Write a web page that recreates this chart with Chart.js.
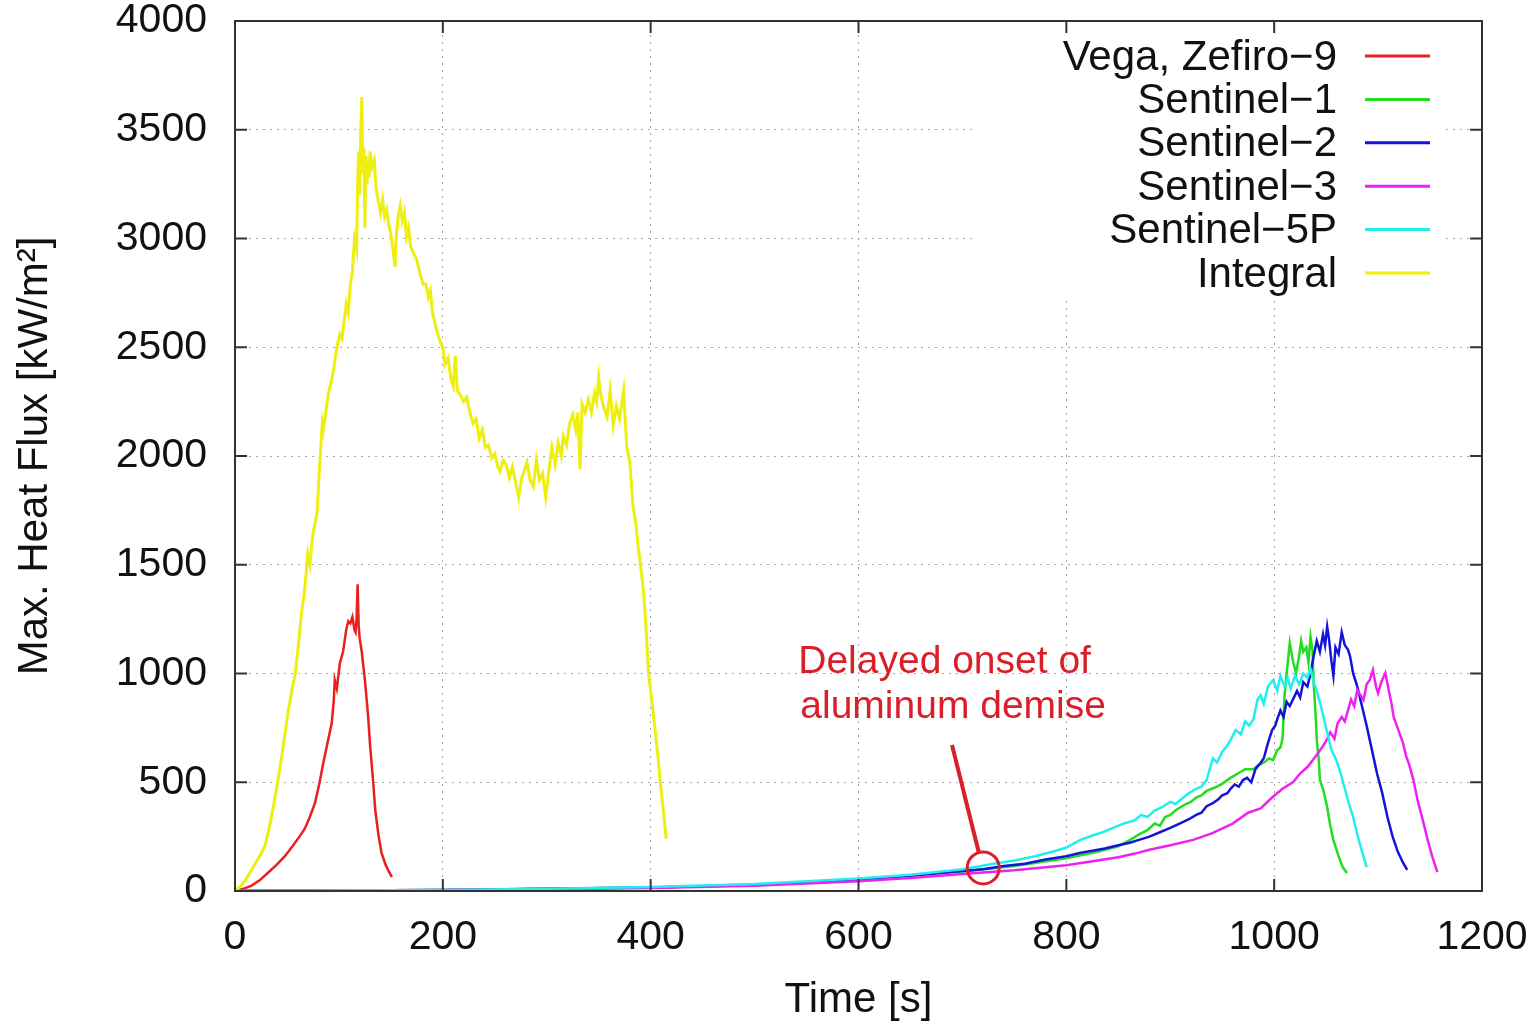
<!DOCTYPE html>
<html>
<head>
<meta charset="utf-8">
<script src="https://cdn.jsdelivr.net/npm/chart.js@4/dist/chart.umd.min.js"></script>
<style>
  body { margin: 0; background: #fff; }
  #wrap { width: 1538px; height: 1022px; }
</style>
</head>
<body>
<div id="wrap"><canvas id="flux" width="1538" height="1022"></canvas></div>
<script>
// values: time [s] and max heat flux [kW/m2]
const vegaTime = [0, 8, 16, 24, 32, 40, 48, 56, 62, 67, 72, 77, 81, 85, 89, 93, 95, 96, 98, 101, 104, 107, 109, 111, 113, 115, 116, 117, 118, 119, 120, 122, 125, 128, 130, 133, 135, 138, 141, 145, 148, 151]
const vegaFlux = [0, 10, 25, 50, 85, 120, 160, 210, 250, 285, 340, 405, 490, 590, 680, 770, 870, 970, 930, 1050, 1100, 1200, 1240, 1230, 1260, 1200, 1190, 1250, 1410, 1220, 1160, 1100, 970, 810, 670, 500, 370, 260, 175, 120, 90, 64]

const s1Time = [0, 100, 200, 300, 400, 500, 600, 700, 750, 800, 830, 850, 861, 870, 878, 885, 890, 895, 900, 905, 910, 915, 920, 925, 930, 935, 940, 945, 951, 958, 965, 972, 980, 985, 990, 995, 999, 1003, 1006, 1008, 1010, 1012, 1015, 1018, 1021, 1024, 1026, 1028, 1031, 1033, 1035, 1037, 1038, 1040, 1041, 1043, 1044, 1047, 1051, 1054, 1057, 1062, 1066, 1070]
const s1Flux = [0, 2, 5, 10, 16, 28, 54, 90, 115, 150, 180, 205, 234, 260, 280, 310, 300, 340, 350, 370, 386, 400, 410, 430, 440, 460, 470, 480, 496, 520, 540, 560, 560, 580, 590, 610, 602, 648, 660, 700, 900, 1000, 1140, 1060, 1002, 1080, 1150, 1100, 1120, 1050, 1168, 1100, 956, 800, 694, 600, 510, 470, 386, 300, 234, 160, 110, 83]

const s2Time = [0, 100, 200, 300, 400, 500, 550, 600, 650, 700, 720, 740, 760, 780, 800, 813, 825, 837, 850, 861, 870, 880, 890, 900, 910, 918, 925, 930, 935, 941, 946, 950, 955, 958, 962, 966, 970, 974, 978, 982, 987, 990, 994, 998, 1001, 1003, 1006, 1009, 1012, 1015, 1018, 1022, 1025, 1028, 1032, 1035, 1038, 1041, 1044, 1047, 1049, 1051, 1053, 1055, 1057, 1059, 1062, 1065, 1068, 1071, 1073, 1076, 1080, 1084, 1089, 1094, 1099, 1104, 1109, 1114, 1119, 1124, 1128]
const s2Flux = [0, 2, 5, 10, 16, 28, 40, 54, 70, 92, 100, 115, 125, 145, 160, 175, 185, 195, 210, 222, 235, 250, 270, 290, 312, 330, 350, 360, 390, 404, 420, 440, 450, 470, 490, 480, 510, 520, 500, 560, 590, 610, 680, 740, 760, 790, 830, 800, 870, 850, 880, 920, 890, 960, 940, 1000, 1080, 1150, 1100, 1180, 1130, 1215, 1150, 1060, 990, 1120, 1090, 1190, 1130, 1110, 1080, 1000, 940, 860, 760, 650, 540, 450, 340, 250, 180, 130, 97]

const s3Time = [0, 100, 200, 300, 400, 500, 600, 650, 700, 750, 800, 830, 850, 866, 880, 900, 922, 940, 960, 975, 987, 998, 1008, 1018, 1025, 1032, 1040, 1046, 1050, 1054, 1058, 1061, 1065, 1068, 1071, 1074, 1077, 1080, 1083, 1086, 1089, 1092, 1095, 1098, 1100, 1103, 1107, 1110, 1113, 1115, 1118, 1121, 1124, 1127, 1130, 1134, 1138, 1143, 1148, 1152, 1157]
const s3Flux = [0, 2, 5, 9, 14, 24, 45, 60, 78, 95, 118, 140, 155, 172, 190, 210, 235, 265, 310, 360, 380, 430, 470, 500, 540, 570, 620, 660, 690, 730, 700, 770, 800, 780, 830, 880, 850, 924, 900, 878, 950, 970, 1016, 940, 910, 960, 1002, 930, 860, 800, 760, 720, 680, 620, 580, 510, 418, 326, 230, 160, 87]

const s5pTime = [0, 100, 200, 300, 400, 500, 550, 600, 650, 700, 730, 750, 770, 790, 800, 813, 825, 835, 845, 855, 866, 872, 878, 885, 892, 900, 905, 910, 918, 925, 930, 935, 938, 941, 945, 950, 955, 958, 963, 968, 972, 976, 980, 984, 987, 990, 994, 999, 1003, 1006, 1010, 1013, 1016, 1020, 1024, 1028, 1032, 1035, 1038, 1041, 1045, 1048, 1051, 1055, 1060, 1064, 1068, 1072, 1076, 1080, 1084, 1089]
const s5pFlux = [0, 2, 5, 10, 18, 32, 45, 58, 75, 100, 125, 140, 160, 185, 200, 234, 255, 270, 290, 310, 325, 350, 340, 370, 385, 410, 400, 420, 450, 470, 480, 510, 560, 610, 590, 640, 670, 694, 740, 720, 780, 760, 790, 880, 900, 860, 940, 970, 920, 990, 940, 980, 930, 990, 950, 1000, 980, 1020, 960, 920, 850, 790, 730, 650, 600, 540, 470, 400, 340, 260, 190, 110]

const integralTime = [0, 5, 10, 15, 20, 25, 29, 33, 37, 41, 45, 51, 55, 58, 61, 64, 67, 70, 72, 75, 79, 81, 82, 84, 85, 87, 90, 93, 95, 97, 99, 101, 103, 105, 107, 109, 111, 113, 115, 117, 118, 119, 120, 121, 122, 123, 124, 125, 126, 127, 128, 129, 130, 132, 134, 136, 138, 140, 142, 144, 146, 148, 150, 152, 154, 155, 157, 159, 161, 163, 165, 167, 169, 172, 175, 178, 181, 184, 186, 188, 190, 192, 195, 198, 200, 202, 205, 208, 210, 212, 214, 217, 220, 223, 226, 229, 232, 235, 238, 241, 244, 247, 250, 253, 255, 258, 261, 264, 267, 270, 273, 276, 279, 281, 284, 287, 290, 293, 296, 299, 302, 305, 308, 311, 314, 316, 319, 322, 325, 328, 330, 332, 334, 337, 340, 343, 346, 348, 350, 352, 355, 358, 361, 364, 367, 370, 374, 377, 380, 383, 386, 388, 390, 393, 395, 398, 401, 404, 407, 409, 412, 415]
const integralFlux = [0, 20, 50, 90, 130, 170, 210, 290, 390, 500, 620, 820, 930, 1000, 1130, 1280, 1380, 1550, 1500, 1640, 1740, 1920, 2000, 2150, 2120, 2190, 2290, 2350, 2400, 2470, 2520, 2560, 2540, 2620, 2700, 2660, 2790, 2850, 3000, 2950, 3250, 3400, 3200, 3500, 3650, 3300, 3420, 3050, 3380, 3250, 3350, 3280, 3400, 3330, 3360, 3220, 3170, 3120, 3180, 3100, 3130, 3060, 3020, 2950, 2870, 3000, 3100, 3150, 3080, 3120, 3010, 3050, 2960, 2930, 2900, 2840, 2790, 2790, 2730, 2760, 2660, 2620, 2560, 2520, 2500, 2420, 2450, 2350, 2320, 2460, 2300, 2280, 2250, 2270, 2200, 2150, 2170, 2080, 2120, 2040, 2050, 1990, 2010, 1950, 1930, 1980, 1960, 1900, 1950, 1880, 1810, 1900, 1940, 1970, 1890, 1860, 1980, 1890, 1920, 1810, 1930, 2040, 1960, 2060, 2000, 2090, 2050, 2150, 2190, 2120, 2200, 1940, 2240, 2200, 2260, 2200, 2290, 2250, 2360, 2280, 2220, 2180, 2300, 2140, 2230, 2170, 2300, 2040, 1970, 1770, 1680, 1580, 1510, 1380, 1250, 1000, 880, 750, 620, 510, 380, 240]

const seriesNames = ['Vega, Zefiro\u22129', 'Sentinel\u22121', 'Sentinel\u22122', 'Sentinel\u22123', 'Sentinel\u22125P', 'Integral']
const seriesColours = ['#e8201e', '#22dd22', '#1414d8', '#ee22ee', '#22eeee', '#eeee11']
const seriesTimes = [vegaTime, s1Time, s2Time, s3Time, s5pTime, integralTime]
const seriesFluxes = [vegaFlux, s1Flux, s2Flux, s3Flux, s5pFlux, integralFlux]

const xTicks = [0, 200, 400, 600, 800, 1000, 1200]
const yTicks = [0, 500, 1000, 1500, 2000, 2500, 3000, 3500, 4000]

const fontFamily = '"Liberation Sans", Arial, Helvetica, sans-serif'
const noteColour = '#d9202a'

function toPoints(times, fluxes) {
  let pts = []
  for (let i = 0; i < times.length; ++i)
    pts.push({x: times[i], y: fluxes[i]})
  return pts
}

let datasets = []
for (let i = 0; i < seriesNames.length; ++i) {
  datasets.push({
    label: seriesNames[i],
    data: toPoints(seriesTimes[i], seriesFluxes[i]),
    borderColor: seriesColours[i],
    borderWidth: i == 5 ? 3 : 2.5,
    pointRadius: 0,
    tension: 0,
    fill: false,
    order: seriesNames.length - i, // gnuplot draws later series on top
  })
}

// white legend box (hides grid like gnuplot) + legend entries
const legendBox = {
  id: 'legendBox',
  beforeDatasetsDraw(chart) {
    let {ctx, chartArea} = chart
    ctx.save()
    ctx.fillStyle = '#fff'
    ctx.fillRect(chartArea.right - 507, chartArea.top + 1, 467, 274)
    ctx.restore()
  },
  afterDraw(chart) {
    let {ctx, chartArea} = chart
    ctx.save()
    ctx.font = '42px ' + fontFamily
    ctx.textAlign = 'right'
    ctx.textBaseline = 'middle'
    chart.data.datasets.forEach((ds, i) => {
      let y = chartArea.top + 35 + i * 43.4
      ctx.fillStyle = '#111'
      ctx.fillText(ds.label, chartArea.right - 145, y + 2)
      ctx.strokeStyle = ds.borderColor
      ctx.lineWidth = 3
      ctx.beginPath()
      ctx.moveTo(chartArea.right - 117, y)
      ctx.lineTo(chartArea.right - 52, y)
      ctx.stroke()
    })
    ctx.restore()
  },
}

// frame with inward ticks on all four sides
const frame = {
  id: 'frame',
  afterDraw(chart) {
    let {ctx, chartArea} = chart
    let xs = chart.scales.x, ys = chart.scales.y
    ctx.save()
    ctx.strokeStyle = '#333'
    ctx.lineWidth = 2
    ctx.strokeRect(chartArea.left, chartArea.top, chartArea.right - chartArea.left, chartArea.bottom - chartArea.top)
    ctx.beginPath()
    for (let v of xTicks) {
      let px = xs.getPixelForValue(v)
      ctx.moveTo(px, chartArea.bottom); ctx.lineTo(px, chartArea.bottom - 12)
      ctx.moveTo(px, chartArea.top); ctx.lineTo(px, chartArea.top + 12)
    }
    for (let v of yTicks) {
      let py = ys.getPixelForValue(v)
      ctx.moveTo(chartArea.left, py); ctx.lineTo(chartArea.left + 12, py)
      ctx.moveTo(chartArea.right, py); ctx.lineTo(chartArea.right - 12, py)
    }
    ctx.stroke()
    ctx.restore()
  },
}

// "Delayed onset of aluminum demise" note with arrow and circle
const note = {
  id: 'note',
  afterDatasetsDraw(chart) {
    let {ctx} = chart
    let xs = chart.scales.x, ys = chart.scales.y
    let px = v => xs.getPixelForValue(v)
    let py = v => ys.getPixelForValue(v)
    ctx.save()
    ctx.fillStyle = noteColour
    ctx.font = '39px ' + fontFamily
    ctx.textAlign = 'left'
    ctx.textBaseline = 'middle'
    ctx.fillText('Delayed onset of', px(542), py(1053))
    ctx.fillText('aluminum demise', px(544), py(846))
    ctx.strokeStyle = noteColour
    ctx.lineWidth = 4
    ctx.beginPath()
    ctx.moveTo(px(690), py(671))
    ctx.lineTo(px(716), py(172))
    ctx.stroke()
    ctx.lineWidth = 3
    ctx.beginPath()
    ctx.arc(px(720), py(106), 16, 0, Math.PI * 2)
    ctx.stroke()
    ctx.restore()
  },
}

let gridStyle = {
  color: '#a8a8a8',
  lineWidth: 1,
  drawTicks: false,
}

// keep the plot box fixed: no extra room for overhanging tick labels
function noOverhang(scale) {
  scale.paddingTop = 0
  scale.paddingBottom = 0
  scale.paddingLeft = 0
  scale.paddingRight = 0
}

let plainNumber = v => String(v)

let chart = new Chart(document.getElementById('flux').getContext('2d'), {
  type: 'line',
  data: {datasets: datasets},
  plugins: [legendBox, frame, note],
  options: {
    responsive: false,
    animation: false,
    devicePixelRatio: 1,
    layout: {padding: {left: 0, right: 56, top: 21, bottom: 0}},
    plugins: {legend: {display: false}, tooltip: {enabled: false}},
    scales: {
      x: {
        type: 'linear',
        min: 0,
        max: 1200,
        afterFit: scale => { scale.height = 131; noOverhang(scale) },
        afterBuildTicks: scale => { scale.ticks = xTicks.map(v => ({value: v})) },
        border: {display: false, dash: [2, 5]},
        grid: gridStyle,
        ticks: {padding: 22, color: '#111', font: {family: fontFamily, size: 41}, maxRotation: 0, callback: plainNumber},
        title: {display: true, text: 'Time [s]', color: '#111', font: {family: fontFamily, size: 42, lineHeight: 1}, padding: {top: 0, bottom: 1}},
      },
      y: {
        type: 'linear',
        min: 0,
        max: 4000,
        afterFit: scale => { scale.width = 235; noOverhang(scale) },
        afterBuildTicks: scale => { scale.ticks = yTicks.map(v => ({value: v})) },
        border: {display: false, dash: [2, 5]},
        grid: gridStyle,
        ticks: {padding: 28, color: '#111', font: {family: fontFamily, size: 41}, callback: plainNumber},
        title: {display: true, text: 'Max. Heat Flux [kW/m\u00b2]', color: '#111', font: {family: fontFamily, size: 42, lineHeight: 1}, padding: {top: 14, bottom: 0}},
      },
    },
  },
})
</script>
</body>
</html>
